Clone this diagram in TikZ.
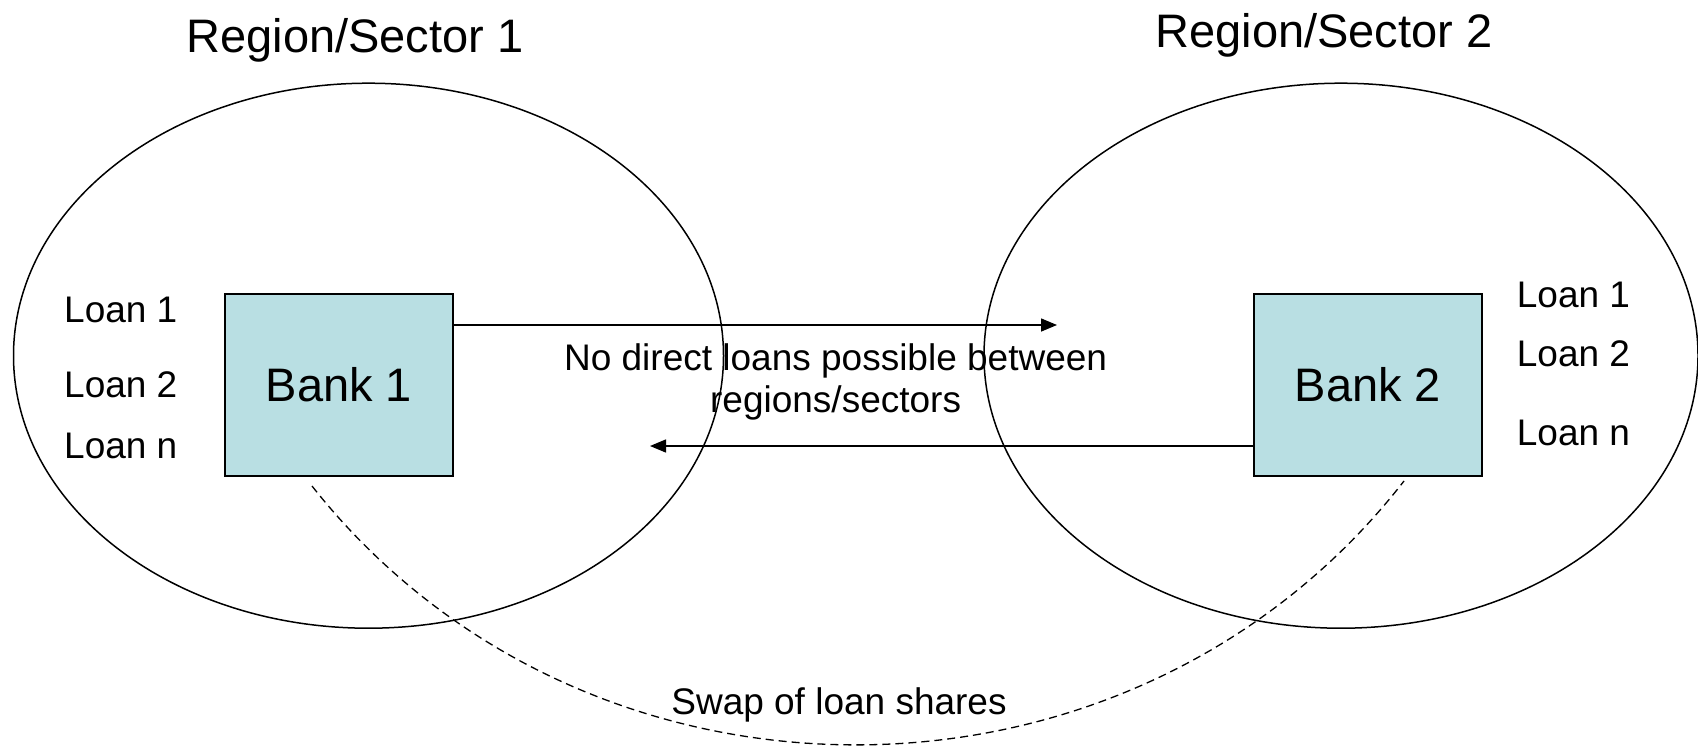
\documentclass[tikz,border=0pt]{standalone}
\usepackage{fontspec}
\setmainfont{Liberation Sans}
\usetikzlibrary{shapes.geometric,arrows.meta}
\definecolor{bankfill}{RGB}{185,223,227}
\tikzset{
  region/.style={draw, ellipse, line width=1.5pt, inner sep=0pt, minimum width=710pt, minimum height=545pt},
  bankbox/.style={draw, fill=bankfill, line width=1.6pt, minimum width=228pt, minimum height=182pt, inner sep=0pt, font=\fontsize{47}{54}\selectfont},
  title/.style={anchor=base, font=\fontsize{47}{54}\selectfont, inner sep=0pt},
  small/.style={anchor=base west, font=\fontsize{37}{42.5}\selectfont, inner sep=0pt},
  label/.style={font=\fontsize{37}{42}\selectfont, inner sep=0pt, align=center},
  flow/.style={line width=1.5pt, -{Triangle[length=16pt,width=13pt]}},
  swap/.style={dashed, line width=1.3pt, dash pattern=on 8pt off 5pt}
}
\begin{document}
\begin{tikzpicture}[x=1pt, y=-1pt]
\useasboundingbox (0,0) rectangle (1698,747);
% regions
\node[region] (e1) at (368.5,355.7) {};
\node[region, minimum width=714pt] (e2) at (1341,355.7) {};
\node[title] (r1) at (355,52) {Region/Sector 1};
\node[title] (r2) at (1324,47.5) {Region/Sector 2};
% banks
\node[bankbox] (b1) at (339,385) {Bank 1};
\node[bankbox] (b2) at (1368,385) {Bank 2};
% loans
\node[small] (la1) at (64,322.5) {Loan 1};
\node[small] (la2) at (64,397.8) {Loan 2};
\node[small] (la3) at (64,458.3) {Loan n};
\node[small] (lb1) at (1516.7,307) {Loan 1};
\node[small] (lb2) at (1516.7,366.8) {Loan 2};
\node[small] (lb3) at (1516.7,445.4) {Loan n};
% arrows
\coordinate (tipr) at (1057,325);
\coordinate (tipl) at (650,446);
\draw[flow] (b1.east |- tipr) -- (tipr);
\draw[flow] (b2.west |- tipl) -- (tipl);
\node[label, anchor=base] (nd) at (835.6,412.7) {No direct loans possible between\\regions/sectors};
% swap
\coordinate (s1) at (312,486);
\coordinate (s2) at (1404,481);
\draw[swap] (s1) .. controls (585,832) and (1131,832) .. (s2);
\node[label, anchor=base] (sw) at (839,714) {Swap of loan shares};
\end{tikzpicture}
\end{document}
